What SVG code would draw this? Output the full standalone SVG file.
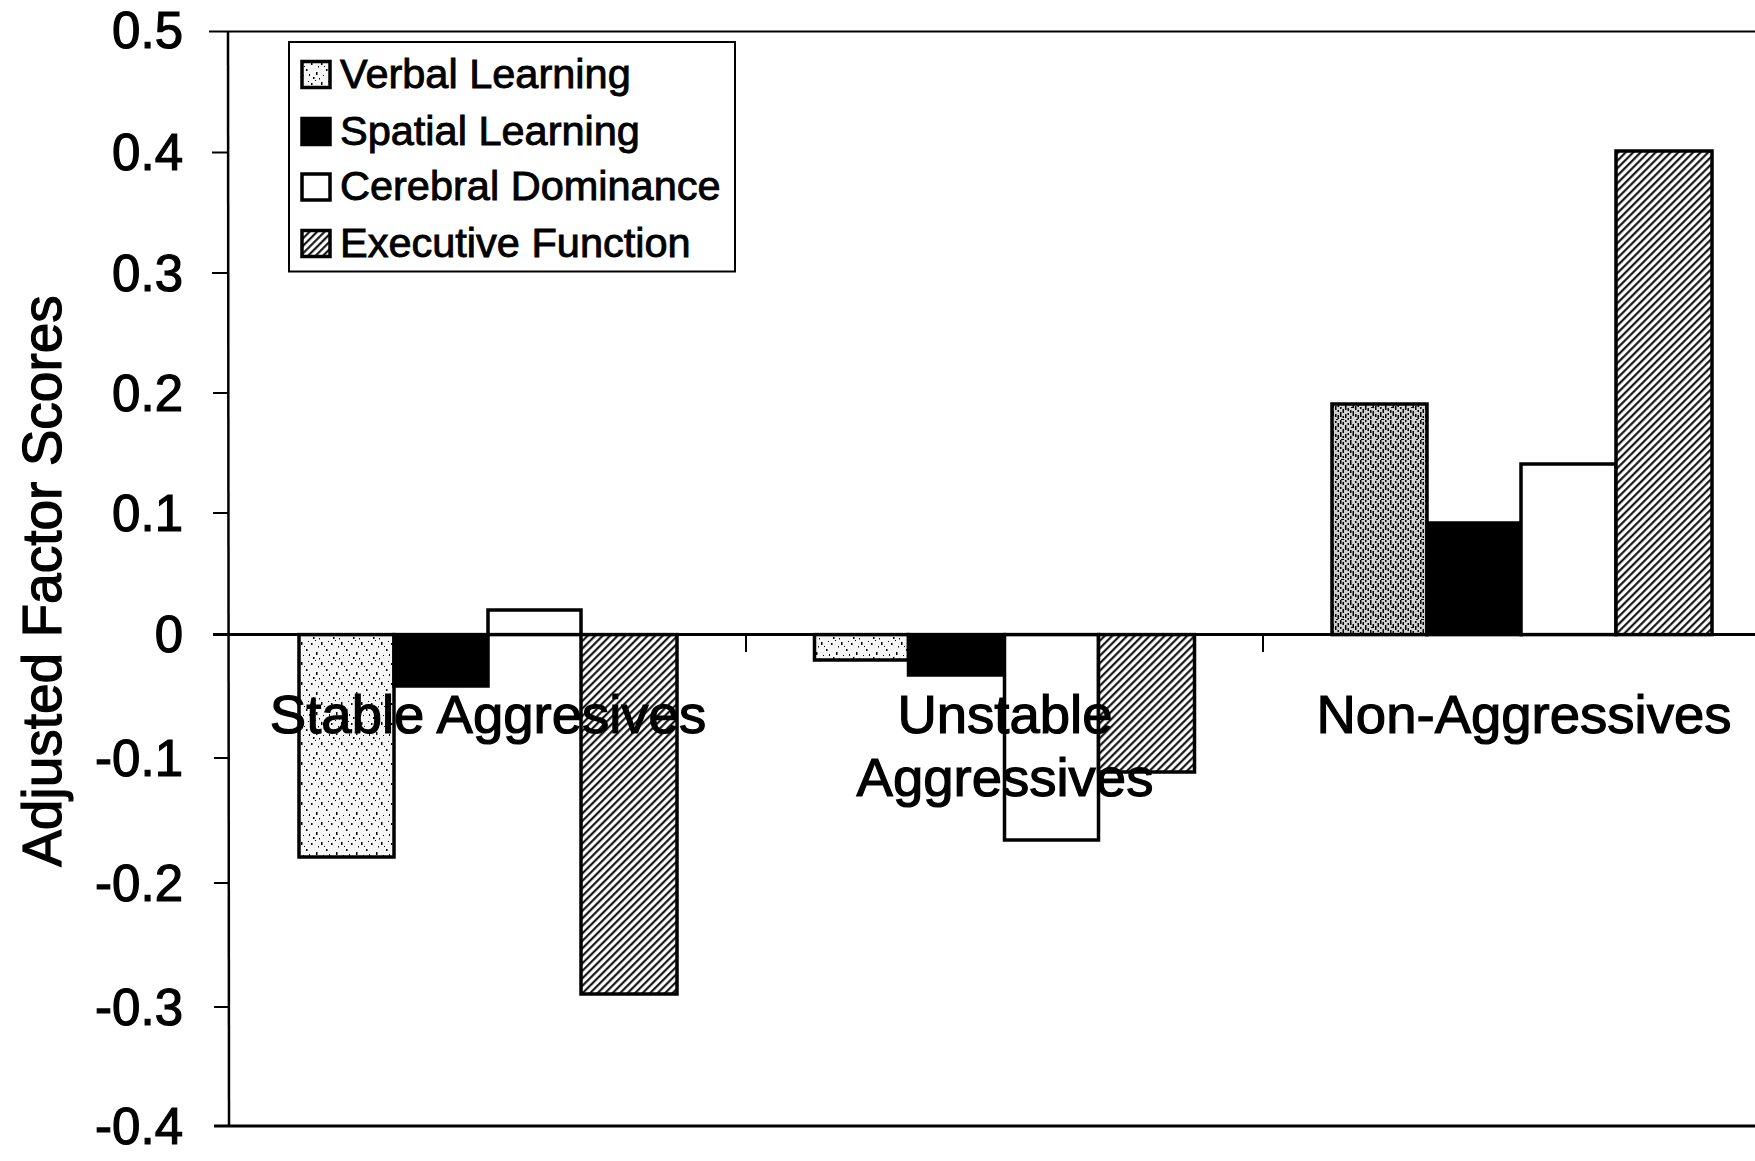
<svg xmlns="http://www.w3.org/2000/svg" width="1755" height="1161" viewBox="0 0 1755 1161">
  <style>
    .lbl { font-family: "Liberation Sans", Arial, Helvetica, sans-serif; fill: #000; stroke: #000; stroke-width: 1.2; }
    .tick { font-size: 51px; text-anchor: end; }
    .cat { font-size: 54.5px; text-anchor: middle; }
    .leg { font-size: 41.5px; stroke-width: 0.9; }
    .bar { stroke: #000; stroke-width: 3.5; }
    .axis { stroke: #000; fill: none; }
  </style>
  <defs>
    <!-- sparse speckle fill (verbal learning, light) -->
    <pattern id="speckLight" width="20" height="20" patternUnits="userSpaceOnUse">
      <rect width="20" height="20" fill="#f6f6f6"/>
      <g fill="#000">
        <rect x="1" y="2" width="1.5" height="3"/>
        <rect x="6" y="9" width="1.5" height="2"/>
        <rect x="11" y="3" width="1.5" height="2"/>
        <rect x="16" y="12" width="1.5" height="3"/>
        <rect x="3" y="15" width="1" height="1"/>
        <rect x="13" y="17" width="1.5" height="2"/>
        <rect x="8" y="1" width="1" height="1"/>
        <rect x="18" y="6" width="1" height="1.5"/>
        <rect x="4" y="6" width="1" height="1"/>
        <rect x="9" y="14" width="1" height="2"/>
        <rect x="15" y="0" width="1" height="1"/>
        <rect x="19" y="18" width="1" height="1.5"/>
      </g>
    </pattern>
    <!-- dense speckle fill (verbal learning, dark) -->
    <pattern id="speckDense" width="20" height="20" patternUnits="userSpaceOnUse">
      <rect width="20" height="20" fill="#d0d0d0"/>
      <g fill="#000">
        <rect x="0" y="0" width="1.5" height="4"/>
        <rect x="0" y="7" width="1.5" height="2"/>
        <rect x="0" y="12" width="1.5" height="5"/>
        <rect x="2.5" y="2" width="1.5" height="3"/>
        <rect x="2.5" y="9" width="1.5" height="4"/>
        <rect x="2.5" y="16" width="1.5" height="2"/>
        <rect x="5" y="0" width="1.5" height="2"/>
        <rect x="5" y="5" width="1.5" height="5"/>
        <rect x="5" y="14" width="1.5" height="4"/>
        <rect x="7.5" y="3" width="1.5" height="2"/>
        <rect x="7.5" y="8" width="1.5" height="3"/>
        <rect x="7.5" y="13" width="1.5" height="2"/>
        <rect x="7.5" y="18" width="1.5" height="2"/>
        <rect x="10" y="0" width="1.5" height="5"/>
        <rect x="10" y="10" width="1.5" height="3"/>
        <rect x="10" y="16" width="1.5" height="3"/>
        <rect x="12.5" y="4" width="1.5" height="3"/>
        <rect x="12.5" y="11" width="1.5" height="5"/>
        <rect x="15" y="1" width="1.5" height="2"/>
        <rect x="15" y="6" width="1.5" height="4"/>
        <rect x="15" y="14" width="1.5" height="3"/>
        <rect x="17.5" y="3" width="1.5" height="4"/>
        <rect x="17.5" y="10" width="1.5" height="2"/>
        <rect x="17.5" y="15" width="1.5" height="4"/>
        <rect x="1" y="19" width="3" height="1"/>
        <rect x="11" y="7" width="3" height="1"/>
        <rect x="16" y="19" width="2" height="1"/>
      </g>
    </pattern>
    <!-- diagonal hatch (executive function) -->
    <pattern id="hatch" width="5.3" height="10" patternUnits="userSpaceOnUse" patternTransform="rotate(45)">
      <rect width="5.3" height="10" fill="#fff"/>
      <line x1="1.2" y1="0" x2="1.2" y2="10" stroke="#000" stroke-width="2"/>
    </pattern>
  </defs>

  <rect width="1755" height="1161" fill="#fff"/>

  <!-- y axis title -->
  <text class="lbl" font-size="55" text-anchor="middle" transform="translate(61 581) rotate(-90)">Adjusted Factor Scores</text>

  <!-- y tick labels -->
  <g id="y-labels" class="lbl tick">
    <text x="183" y="48">0.5</text>
    <text x="183" y="170">0.4</text>
    <text x="183" y="291">0.3</text>
    <text x="183" y="411">0.2</text>
    <text x="183" y="531">0.1</text>
    <text x="183" y="652">0</text>
    <text x="183" y="776">-0.1</text>
    <text x="183" y="901">-0.2</text>
    <text x="183" y="1025">-0.3</text>
    <text x="183" y="1144">-0.4</text>
  </g>

  <!-- bars: Stable Aggresives -->
  <g id="group-stable">
    <rect class="bar" x="299" y="634.6" width="95" height="222.4" fill="url(#speckLight)"/>
    <rect class="bar" x="394" y="634.6" width="94" height="51.4" fill="#000"/>
    <rect class="bar" x="488" y="610" width="93" height="24.6" fill="#fff"/>
    <rect class="bar" x="581" y="634.6" width="96" height="359.4" fill="url(#hatch)"/>
  </g>

  <!-- bars: Unstable Aggressives -->
  <g id="group-unstable">
    <rect class="bar" x="814.5" y="634.6" width="94" height="25.4" fill="url(#speckLight)"/>
    <rect class="bar" x="908.5" y="634.6" width="96" height="40.4" fill="#000"/>
    <rect class="bar" x="1004.5" y="634.6" width="94" height="205.4" fill="#fff"/>
    <rect class="bar" x="1098.5" y="634.6" width="96" height="137.4" fill="url(#hatch)"/>
  </g>

  <!-- bars: Non-Aggressives -->
  <g id="group-non">
    <rect class="bar" x="1332" y="404" width="95" height="230.6" fill="url(#speckDense)"/>
    <rect class="bar" x="1427" y="523" width="94" height="111.6" fill="#000"/>
    <rect class="bar" x="1521" y="464" width="95" height="170.6" fill="#fff"/>
    <rect class="bar" x="1616" y="151" width="96" height="483.6" fill="url(#hatch)"/>
  </g>

  <!-- axes, frame and ticks -->
  <g id="axes" class="axis">
    <line x1="209" y1="31.5" x2="1755" y2="31.5" stroke-width="2"/>
    <line x1="228" y1="31" x2="229" y2="1126" stroke-width="2.5"/>
    <line x1="214" y1="1126" x2="1755" y2="1126" stroke-width="3"/>
    <line x1="212" y1="152.5" x2="228" y2="152.5" stroke-width="2"/>
    <line x1="212" y1="273" x2="228" y2="273" stroke-width="2"/>
    <line x1="213" y1="393" x2="228" y2="393" stroke-width="2"/>
    <line x1="213" y1="513" x2="228" y2="513" stroke-width="2"/>
    <line x1="213" y1="634.6" x2="1755" y2="634.6" stroke-width="3"/>
    <line x1="214" y1="758" x2="229" y2="758" stroke-width="2"/>
    <line x1="214" y1="883" x2="229" y2="883" stroke-width="2"/>
    <line x1="214" y1="1007" x2="229" y2="1007" stroke-width="2"/>
    <line x1="746" y1="634.6" x2="746" y2="652" stroke-width="2"/>
    <line x1="1263" y1="634.6" x2="1263" y2="652" stroke-width="2"/>
  </g>

  <!-- category labels -->
  <g id="categories" class="lbl cat">
    <text x="488" y="733">Stable Aggresives</text>
    <text x="1005" y="733">Unstable</text>
    <text x="1005" y="796">Aggressives</text>
    <text x="1524" y="733">Non-Aggressives</text>
  </g>

  <!-- legend -->
  <g id="legend">
    <rect x="289" y="42" width="446" height="229.5" fill="#fff" stroke="#000" stroke-width="2"/>
    <rect class="bar" x="302" y="61.5" width="28" height="26" fill="url(#speckLight)" stroke-width="3"/>
    <rect class="bar" x="302" y="118.5" width="28" height="26" fill="#000" stroke-width="3"/>
    <rect class="bar" x="302" y="174" width="28" height="26" fill="#fff" stroke-width="3"/>
    <rect class="bar" x="302" y="230.5" width="28" height="26" fill="url(#hatch)" stroke-width="3"/>
    <g class="lbl leg">
      <text x="340" y="87.5">Verbal Learning</text>
      <text x="340" y="144.5">Spatial Learning</text>
      <text x="340" y="200">Cerebral Dominance</text>
      <text x="340" y="256.5">Executive Function</text>
    </g>
  </g>
</svg>
